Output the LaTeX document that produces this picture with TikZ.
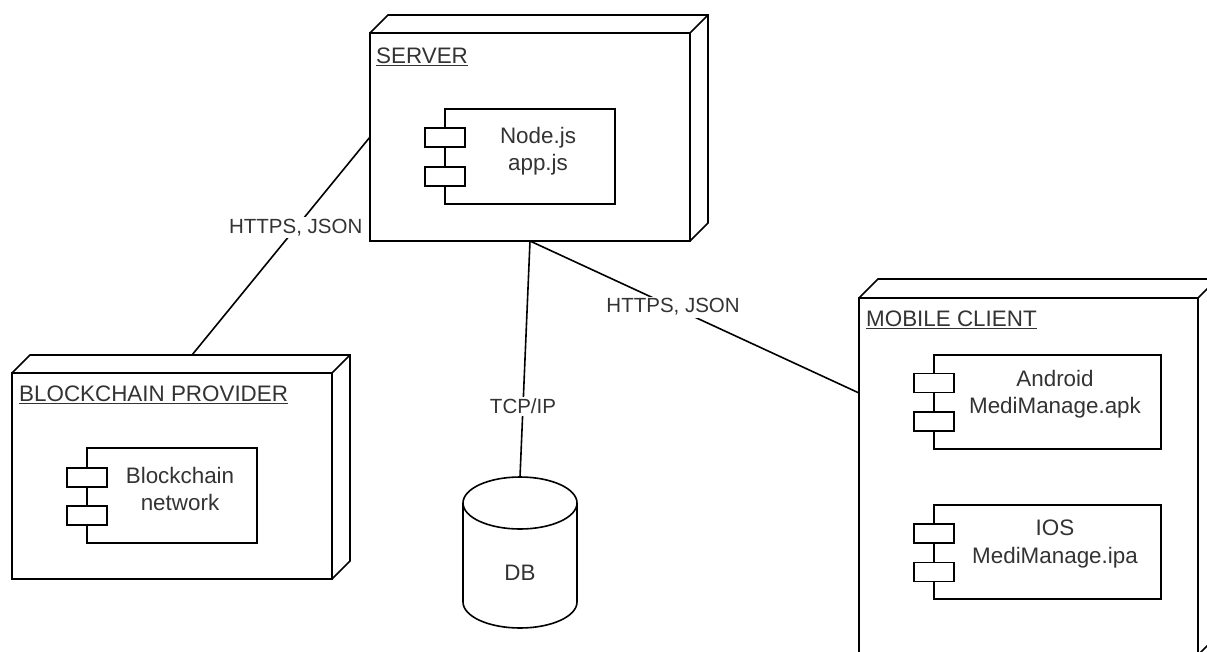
\documentclass[tikz,border=0pt]{standalone}
\usepackage{fontspec}
\setmainfont{Liberation Sans}
\usetikzlibrary{calc}
\definecolor{txt}{HTML}{333333}
\tikzset{
  face/.style={draw, line width=1.6pt, inner sep=0pt, outer sep=0pt, fill=white},
  depth/.style={line width=1.6pt, line join=miter},
  comp/.style={draw, line width=1.6pt, inner sep=0pt, outer sep=0pt, fill=white},
  port/.style={draw, line width=1.6pt, fill=white, minimum width=40pt, minimum height=19pt, inner sep=0pt, outer sep=0pt},
  vtext/.style={text=txt, font=\fontsize{22.4}{27.5}\selectfont, align=center, inner sep=0pt},
  ttl/.style={text=txt, font=\fontsize{22.4}{27.5}\selectfont, anchor=west, inner sep=0pt},
  elabel/.style={text=txt, font=\fontsize{20.5}{24}\selectfont, fill=white, inner sep=2pt},
  conn/.style={line width=1.6pt}
}
\begin{document}
\begin{tikzpicture}[x=1pt,y=-1pt]
\useasboundingbox (0,0) rectangle (1207,651);
\fill[white] (0,0) rectangle (1207,651);

% ---------- SERVER ----------
\node[face, minimum width=320pt, minimum height=208pt] (server) at (530,137) {};
\draw[depth] (server.north west) -- ++(18,-18) -- ++(320,0) -- ++(0,208) -- (server.south east);
\draw[depth] (server.north east) -- ++(18,-18);
\node[ttl] (servertitle) at (376,57) {\underline{SERVER}};
\node[comp, minimum width=170pt, minimum height=95pt] (nodecomp) at (530,156.5) {};
\node[port] (np1) at (445,137.5) {};
\node[port] (np2) at (445,176.5) {};
\node[vtext] (nodetext) at (538,151) {Node.js\\app.js};

% ---------- BLOCKCHAIN PROVIDER ----------
\node[face, minimum width=320pt, minimum height=206pt] (bc) at (172,476) {};
\draw[depth] (bc.north west) -- ++(18,-18) -- ++(320,0) -- ++(0,206) -- (bc.south east);
\draw[depth] (bc.north east) -- ++(18,-18);
\node[ttl] (bctitle) at (19,395) {\underline{BLOCKCHAIN PROVIDER}};
\node[comp, minimum width=170pt, minimum height=95pt] (bccomp) at (172,495.5) {};
\node[port] (bp1) at (87,477.5) {};
\node[port] (bp2) at (87,515.5) {};
\node[vtext] (bctext) at (180,489) {Blockchain\\network};
\coordinate (bctop) at (192,355);

% ---------- MOBILE CLIENT ----------
\node[face, minimum width=339pt, minimum height=357pt] (mobile) at (1028.5,476.5) {};
\draw[depth] (mobile.north west) -- ++(19,-19) -- ++(339,0) -- ++(0,357) -- (mobile.south east);
\draw[depth] (mobile.north east) -- ++(19,-19);
\node[ttl] (mobiletitle) at (866,320) {\underline{MOBILE CLIENT}};
\node[comp, minimum width=227pt, minimum height=94pt] (andcomp) at (1047.5,402) {};
\node[port] (ap1) at (934,383) {};
\node[port] (ap2) at (934,421.5) {};
\node[vtext] (andtext) at (1055,394) {Android\\MediManage.apk};
\node[comp, minimum width=227pt, minimum height=94pt] (ioscomp) at (1047.5,552) {};
\node[port] (ip1) at (934,533.5) {};
\node[port] (ip2) at (934,572) {};
\node[vtext] (iostext) at (1055,544) {IOS\\MediManage.ipa};
\coordinate (mobin) at (859,393);

% ---------- DB ----------
\coordinate (dbtop) at (520,477);
\fill[white] (463,503) -- (463,602) arc[start angle=180, end angle=0, x radius=57, y radius=26] -- (577,503) arc[start angle=0, end angle=-180, x radius=57, y radius=26] -- cycle;
\draw[line width=1.6pt] (463,503) -- (463,602) arc[start angle=180, end angle=0, x radius=57, y radius=26] -- (577,503);
\draw[line width=1.6pt] (520,503) ellipse[x radius=57, y radius=26];
\node[vtext] (db) at (520,573) {DB};

% ---------- CONNECTORS ----------
\draw[conn] (server.west) -- node[elabel, pos=0.417] (l1) {HTTPS, JSON} (bctop);
\draw[conn] (server.south) -- node[elabel, pos=0.70] (l2) {TCP/IP} (dbtop);
\draw[conn] (server.south) -- node[elabel, pos=0.435] (l3) {HTTPS, JSON} (mobin);
\end{tikzpicture}
\end{document}
